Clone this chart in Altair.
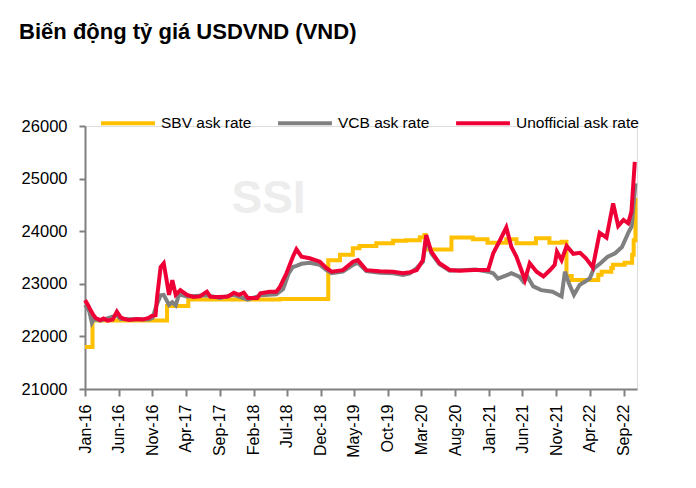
import altair as alt
import pandas as pd

FONT = "Liberation Sans, Arial, sans-serif"

title_text = "Biến động tỷ giá USDVND (VND)"
series_names = ["SBV ask rate", "VCB ask rate", "Unofficial ask rate"]
series_colors = ["#FFC000", "#808080", "#EE0036"]

y_ticks = [21000, 22000, 23000, 24000, 25000, 26000]
x_tick_months = [(2016, 1), (2016, 6), (2016, 11), (2017, 4), (2017, 9), (2018, 2),
                 (2018, 7), (2018, 12), (2019, 5), (2019, 10), (2020, 3), (2020, 8),
                 (2021, 1), (2021, 6), (2021, 11), (2022, 4), (2022, 9)]

# SBV ask rate (step series)
sbv_dates = ["2016-01-01", "2016-02-04", "2017-01-06", "2017-04-12", "2018-06-01",
             "2019-01-05", "2019-02-27", "2019-04-26", "2019-05-26", "2019-08-10",
             "2019-10-25", "2019-12-24", "2020-02-23", "2020-03-15", "2020-03-20",
             "2020-07-15", "2020-10-20", "2020-12-25", "2021-03-20", "2021-05-05",
             "2021-08-01", "2021-10-01", "2021-11-25", "2021-12-17", "2022-01-10",
             "2022-05-10", "2022-05-25", "2022-07-08", "2022-07-15", "2022-09-06",
             "2022-10-10", "2022-10-17", "2022-10-25"]
sbv_values = [21800, 22300, 22580, 22700, 22710,
              23450, 23550, 23675, 23718, 23770,
              23820, 23830, 23884, 23928, 23650,
              23880, 23846, 23782, 23846, 23770,
              23865, 23780, 23800, 23150, 23070,
              23170, 23230, 23300, 23360, 23400,
              23550, 23830, 24630]

# VCB ask rate
vcb_dates = ["2016-01-01", "2016-01-20", "2016-02-01", "2016-02-10", "2016-03-10",
             "2016-05-24", "2016-06-10", "2016-10-15", "2016-11-01", "2016-11-20",
             "2016-12-08", "2016-12-22", "2017-01-15", "2017-01-30", "2017-02-14",
             "2017-03-01", "2017-04-06", "2017-07-05", "2017-09-02", "2017-11-04",
             "2018-01-06", "2018-03-04", "2018-05-15", "2018-06-15", "2018-07-10",
             "2018-07-29", "2018-08-14", "2018-09-06", "2018-10-13", "2018-11-28",
             "2018-12-28", "2019-01-20", "2019-03-12", "2019-04-27", "2019-05-19",
             "2019-06-26", "2019-08-25", "2019-10-25", "2019-12-09", "2020-01-09",
             "2020-02-09", "2020-03-08", "2020-03-23", "2020-04-15", "2020-05-22",
             "2020-07-07", "2020-09-01", "2020-11-01", "2020-12-28", "2021-01-20",
             "2021-02-10", "2021-03-20", "2021-04-12", "2021-05-20", "2021-06-05",
             "2021-06-25", "2021-07-20", "2021-08-25", "2021-10-15", "2021-11-25",
             "2021-12-10", "2021-12-28", "2022-01-20", "2022-02-15", "2022-03-10",
             "2022-04-01", "2022-04-20", "2022-05-20", "2022-06-20", "2022-07-25",
             "2022-08-25", "2022-09-25", "2022-10-08", "2022-10-25"]
vcb_values = [22600, 22480, 22260, 22330, 22300,
              22400, 22330, 22320, 22350, 22600,
              22780, 22790, 22600, 22650, 22590,
              22800, 22760, 22780, 22730, 22790,
              22700, 22780, 22800, 22900, 23200,
              23320, 23340, 23380, 23400, 23360,
              23260, 23200, 23230, 23360, 23400,
              23240, 23210, 23200, 23170, 23200,
              23300, 23420, 23880, 23580, 23370,
              23250, 23260, 23270, 23230, 23200,
              23100, 23160, 23200, 23130, 23040,
              23130, 22950, 22880, 22850, 22760,
              23230, 23010, 22790, 22980, 23040,
              23100, 23290, 23390, 23510, 23580,
              23700, 23990, 24090, 24910]

# Unofficial ask rate
unof_dates = ["2016-01-01", "2016-01-14", "2016-01-26", "2016-02-06", "2016-02-18",
              "2016-03-10", "2016-03-25", "2016-04-12", "2016-05-05", "2016-05-24",
              "2016-06-10", "2016-06-28", "2016-07-21", "2016-08-22", "2016-09-18",
              "2016-10-15", "2016-10-29", "2016-11-15", "2016-11-22", "2016-12-08",
              "2016-12-22", "2017-01-04", "2017-01-15", "2017-01-30", "2017-02-14",
              "2017-03-07", "2017-04-06", "2017-05-06", "2017-06-03", "2017-07-05",
              "2017-07-21", "2017-09-02", "2017-10-08", "2017-11-04", "2017-11-27",
              "2017-12-19", "2018-01-06", "2018-02-18", "2018-03-04", "2018-04-15",
              "2018-05-15", "2018-06-01", "2018-06-30", "2018-07-29", "2018-08-14",
              "2018-09-06", "2018-10-13", "2018-11-28", "2018-12-28", "2019-01-20",
              "2019-03-12", "2019-04-27", "2019-05-19", "2019-06-26", "2019-08-25",
              "2019-10-25", "2019-12-09", "2020-01-09", "2020-02-09", "2020-03-08",
              "2020-03-23", "2020-04-15", "2020-05-22", "2020-07-07", "2020-08-22",
              "2020-10-22", "2020-12-28", "2021-01-20", "2021-02-20", "2021-03-20",
              "2021-04-12", "2021-05-05", "2021-05-27", "2021-06-12", "2021-07-04",
              "2021-08-04", "2021-09-04", "2021-10-04", "2021-10-25", "2021-11-04",
              "2021-11-25", "2021-12-18", "2022-01-17", "2022-02-17", "2022-03-16",
              "2022-04-15", "2022-05-16", "2022-06-16", "2022-07-16", "2022-08-08",
              "2022-09-01", "2022-09-22", "2022-10-07", "2022-10-22"]
unof_values = [22690, 22600, 22500, 22420, 22350,
               22310, 22340, 22300, 22320, 22470,
               22360, 22330, 22310, 22330, 22320,
               22350, 22390, 22400, 22750, 23320,
               23390, 23070, 22790, 23070, 22790,
               22880, 22790, 22750, 22760, 22850,
               22755, 22750, 22760, 22830, 22790,
               22830, 22730, 22730, 22820, 22850,
               22850, 22945, 23200, 23515, 23656,
               23515, 23485, 23420, 23295, 23230,
               23260, 23420, 23450, 23260, 23240,
               23230, 23200, 23220, 23262, 23453,
               23928, 23610, 23390, 23262, 23250,
               23262, 23262, 23580, 23833, 24070,
               23700, 23515, 23262, 23072, 23390,
               23230, 23140, 23262, 23360, 23610,
               23450, 23720, 23570, 23590, 23480,
               23310, 23970, 23880, 24530, 24100,
               24213, 24150, 24372, 25320]

watermark_label = ["SSI"]
watermark_date = ["2018-04-10"]
watermark_rate = [24346]

frames = []
for name, dates, vals in [(series_names[0], sbv_dates, sbv_values),
                          (series_names[1], vcb_dates, vcb_values),
                          (series_names[2], unof_dates, unof_values)]:
    frames.append(pd.DataFrame({"date": pd.to_datetime(dates), "rate": vals, "series": name}))
df = pd.concat(frames, ignore_index=True)

wm = pd.DataFrame({"date": pd.to_datetime(watermark_date), "rate": watermark_rate,
                   "label": watermark_label})

x_scale = alt.Scale(domain=[alt.DateTime(year=2016, month=1, date=1),
                            alt.DateTime(year=2022, month=11, date=1)])
y_scale = alt.Scale(domain=[21000, 26000], nice=False, zero=False)

x_axis = alt.Axis(values=[alt.DateTime(year=y, month=m, date=1) for y, m in x_tick_months],
                  format="%b-%y", labelAngle=-90, title=None, grid=False,
                  domainColor="#808080", domainWidth=2, tickColor="#808080", tickWidth=2,
                  tickSize=7, labelFontSize=16, labelFont=FONT, labelColor="#000000",
                  labelPadding=8)
y_axis = alt.Axis(values=y_ticks, format="d", title=None, grid=False,
                  domainColor="#808080", domainWidth=2, tickColor="#808080", tickWidth=2,
                  tickSize=6, labelFontSize=16.5, labelFont=FONT, labelColor="#000000",
                  labelPadding=12)

color = alt.Color("series:N",
                  scale=alt.Scale(domain=series_names, range=series_colors),
                  legend=alt.Legend(orient="none", legendX=14, legendY=-32,
                                    direction="horizontal", title=None,
                                    symbolType="stroke", symbolSize=2900,
                                    symbolStrokeWidth=4, labelFontSize=15.5,
                                    labelFont=FONT, labelColor="#000000",
                                    labelOffset=4, columnPadding=18, padding=0))

watermark = alt.Chart(wm).mark_text(font=FONT, fontSize=46, fontWeight="bold",
                                    color="#EDEDED", align="center",
                                    baseline="alphabetic").encode(
    x=alt.X("date:T", scale=x_scale, axis=x_axis),
    y=alt.Y("rate:Q", scale=y_scale, axis=y_axis),
    text="label:N")

base = alt.Chart(df).encode(
    x=alt.X("date:T", scale=x_scale, axis=x_axis),
    y=alt.Y("rate:Q", scale=y_scale, axis=y_axis),
    color=color)

layers = [watermark]
layers.append(base.transform_filter(alt.datum.series == series_names[0])
              .mark_line(strokeWidth=4, interpolate="step-after"))
layers.append(base.transform_filter(alt.datum.series == series_names[1])
              .mark_line(strokeWidth=4))
layers.append(base.transform_filter(alt.datum.series == series_names[2])
              .mark_line(strokeWidth=4))

chart = alt.layer(*layers).properties(
    width=552, height=263,
    autosize=alt.AutoSizeParams(type="none"),
    padding={"left": 77, "top": 118, "right": 43, "bottom": 90},
    title=alt.TitleParams(title_text, anchor="start", font=FONT, fontSize=22,
                          fontWeight="bold", color="#000000", dx=-2, offset=33,
                          baseline="alphabetic"),
).configure_view(stroke=None).configure(background="white")

chart.save("out.html", embed_options={"renderer": "svg", "actions": False})
